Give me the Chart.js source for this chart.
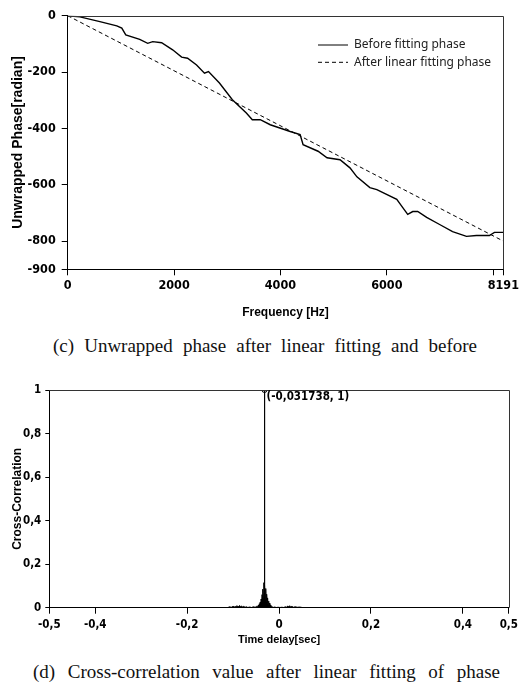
<!DOCTYPE html>
<html>
<head>
<meta charset="utf-8">
<script src="https://cdn.jsdelivr.net/npm/chart.js@4.4.1/dist/chart.umd.min.js"></script>
<style>
  html, body { margin: 0; padding: 0; background: #fff; }
  body { width: 522px; height: 688px; position: relative; overflow: hidden; }
  .box { position: absolute; left: 0; width: 522px; }
  #phaseBox { top: 0; height: 325px; }
  #ccBox { top: 375px; height: 280px; }
  .caption {
    position: absolute;
    font-family: "Liberation Serif", "Times New Roman", serif;
    font-size: 19px;
    line-height: 22px;
    color: #111;
    text-align: justify;
    text-align-last: justify;
  }
  #captionC { left: 53px; width: 424px; top: 335px; }
  #captionD { left: 33px; width: 467px; top: 661px; }
</style>
</head>
<body>
<div class="box" id="phaseBox"><canvas id="phaseChart"></canvas></div>
<div class="caption" id="captionC">(c) Unwrapped phase after linear fitting and before</div>
<div class="box" id="ccBox"><canvas id="ccChart"></canvas></div>
<div class="caption" id="captionD">(d) Cross-correlation value after linear fitting of phase</div>

<script>
// (c) unwrapped phase
const phaseFreq = [0, 230, 605, 923, 1017, 1092, 1354, 1504, 1598, 1766, 1973, 2142, 2254, 2423, 2572,
  2647, 2853, 3096, 3359, 3471, 3621, 3808, 4183, 4370, 4426, 4707, 4876, 5120, 5307, 5438,
  5681, 5812, 6187, 6300, 6393, 6487, 6581, 6749, 6993, 7236, 7498, 7685, 7929, 8023, 8191];
const phaseBefore = [0, -4, -21, -36, -44, -68, -84, -98, -92, -96, -121, -147, -151, -175, -204,
  -198, -239, -298, -345, -369, -369, -387, -411, -422, -458, -481, -504, -511, -540, -572,
  -610, -617, -652, -681, -705, -695, -695, -716, -741, -766, -783, -780, -780, -769, -769];
const fitFreq = [0, 8191];
const phaseAfter = [0, -800];
const freqTicks = [0, 2000, 4000, 6000, 8000, 8191];
const freqTickLabels = ["0", "2000", "4000", "6000", "", "8191"];
const phaseTicks = [0, -200, -400, -600, -800, -900];

// (d) cross-correlation
const ccTime = [-0.5, -0.112, -0.108, -0.104, -0.1, -0.096, -0.092, -0.088, -0.086, -0.084, -0.082,
  -0.08, -0.077, -0.074, -0.071, -0.068, -0.064, -0.06, -0.056, -0.052, -0.049, -0.047, -0.045,
  -0.044, -0.043, -0.042, -0.041, -0.04, -0.039, -0.038, -0.037, -0.036, -0.035, -0.034, -0.033,
  -0.0325, -0.032, -0.031738, -0.0312, -0.031, -0.03, -0.029, -0.028, -0.027, -0.026, -0.025,
  -0.024, -0.023, -0.022, -0.021, -0.02, -0.019, -0.018, -0.016, -0.013, -0.01, -0.006, -0.002,
  0.002, 0.006, 0.01, 0.014, 0.017, 0.019, 0.021, 0.023, 0.025, 0.028, 0.031, 0.035, 0.04, 0.045,
  0.05, 0.052, 0.5];
const ccValue = [0, 0, 0.004, 0.002, 0.006, 0.003, 0.008, 0.005, 0.01, 0.004, 0.008,
  0.003, 0.006, 0.002, 0.004, 0.001, 0.003, 0.001, 0.004, 0.002, 0.006, 0.003, 0.012,
  0.004, 0.018, 0.008, 0.026, 0.012, 0.04, 0.018, 0.06, 0.025, 0.085, 0.04, 0.115,
  0.05, 0.228, 1, 0.06, 0.105, 0.035, 0.088, 0.028, 0.062, 0.018, 0.045,
  0.012, 0.03, 0.008, 0.02, 0.004, 0.012, 0.002, 0.006, 0.001, 0.003, 0.001, 0.002,
  0.001, 0.002, 0.001, 0.004, 0.002, 0.008, 0.004, 0.009, 0.003, 0.006, 0.002, 0.004, 0.002, 0.003,
  0.001, 0, 0];
const peakTime = -0.031738;
const peakValue = 1;
const peakLabel = "(-0,031738, 1)";
const timeTicks = [-0.5, -0.4, -0.2, 0, 0.2, 0.4, 0.5];
const timeTickLabels = ["-0,5", "-0,4", "-0,2", "0", "0,2", "0,4", "0,5"];
const ccTicks = [0, 0.2, 0.4, 0.6, 0.8, 1];
const ccTickLabels = ["0", "0,2", "0,4", "0,6", "0,8", "1"];

const narrow = "\"Liberation Sans Narrow\", \"Arial Narrow\", \"DejaVu Sans Condensed\", sans-serif";
const plain = "\"Liberation Sans\", Arial, sans-serif";

const framePlugin = {
  id: "frame",
  afterDraw(chart) {
    const { ctx, chartArea: a } = chart;
    ctx.save();
    ctx.strokeStyle = "#333";
    ctx.lineWidth = 1;
    ctx.beginPath();
    ctx.moveTo(a.left, Math.round(a.top) + 0.5);
    ctx.lineTo(Math.round(a.right) + 0.5, Math.round(a.top) + 0.5);
    ctx.lineTo(Math.round(a.right) + 0.5, a.bottom);
    ctx.stroke();
    ctx.restore();
  }
};

const phaseLegend = {
  id: "phaseLegend",
  afterDraw(chart) {
    const ctx = chart.ctx;
    chart.data.datasets.forEach((ds, i) => {
      const y = 45 + i * 17.3;
      ctx.save();
      ctx.strokeStyle = ds.borderColor;
      ctx.lineWidth = 1;
      ctx.setLineDash(ds.borderDash || []);
      ctx.beginPath();
      ctx.moveTo(318, y);
      ctx.lineTo(348, y);
      ctx.stroke();
      ctx.setLineDash([]);
      ctx.fillStyle = "#222";
      ctx.font = "12px \"Noto Sans\", sans-serif";
      ctx.textBaseline = "middle";
      ctx.fillText(ds.label, 354, y);
      ctx.restore();
    });
  }
};

const peakNote = {
  id: "peakNote",
  afterDraw(chart) {
    const ctx = chart.ctx;
    const x = chart.scales.x.getPixelForValue(peakTime);
    const y = chart.scales.y.getPixelForValue(peakValue);
    ctx.save();
    ctx.fillStyle = "#000";
    ctx.font = "bold 11.5px " + narrow;
    ctx.textBaseline = "middle";
    ctx.fillText(peakLabel, x + 2, y + 7);
    ctx.restore();
  }
};

new Chart(document.getElementById("phaseChart"), {
  type: "line",
  data: {
    datasets: [
      {
        label: "Before fitting phase",
        data: phaseFreq.map((f, i) => ({ x: f, y: phaseBefore[i] })),
        borderColor: "#000",
        borderWidth: 1.4,
        pointRadius: 0,
        tension: 0,
        fill: false
      },
      {
        label: "After linear fitting phase",
        data: fitFreq.map((f, i) => ({ x: f, y: phaseAfter[i] })),
        borderColor: "#000",
        borderWidth: 1,
        borderDash: [4, 3],
        pointRadius: 0,
        fill: false
      }
    ]
  },
  options: {
    responsive: true,
    maintainAspectRatio: false,
    animation: false,
    layout: { padding: { top: 15.7, right: 16.7, left: 0, bottom: 0 } },
    plugins: { legend: { display: false }, tooltip: { enabled: false } },
    scales: {
      x: {
        type: "linear",
        min: 0,
        max: 8191,
        afterBuildTicks(scale) { scale.ticks = freqTicks.map((v) => ({ value: v })); },
        afterFit(scale) { scale.height = 325 - 269.3; },
        ticks: {
          autoSkip: false,
          maxRotation: 0,
          padding: 3,
          color: "#000",
          font: { family: narrow, weight: "bold", size: 12.5 },
          callback: (v, i) => freqTickLabels[i]
        },
        grid: { drawOnChartArea: false, tickLength: 6, color: "#000" },
        border: { color: "#000", width: 1 },
        title: {
          display: true,
          text: "Frequency [Hz]",
          color: "#000",
          padding: { top: 0, bottom: 5 },
          font: { family: plain, weight: "bold", size: 12 }
        }
      },
      y: {
        min: -900,
        max: 0,
        afterBuildTicks(scale) { scale.ticks = phaseTicks.map((v) => ({ value: v })); },
        afterFit(scale) { scale.width = 67.7; },
        ticks: {
          autoSkip: false,
          padding: 6,
          color: "#000",
          font: { family: narrow, weight: "bold", size: 12.5 }
        },
        grid: { drawOnChartArea: false, tickLength: 6, color: "#000" },
        border: { color: "#000", width: 1 },
        title: {
          display: true,
          text: "Unwrapped Phase[radian]",
          color: "#000",
          padding: { top: 10, bottom: 0 },
          font: { family: plain, weight: "bold", size: 14 }
        }
      }
    }
  },
  plugins: [framePlugin, phaseLegend]
});

new Chart(document.getElementById("ccChart"), {
  type: "line",
  data: {
    datasets: [
      {
        label: "Cross-Correlation",
        data: ccTime.map((t, i) => ({ x: t, y: ccValue[i] })),
        borderColor: "#000",
        backgroundColor: "#000",
        borderWidth: 1,
        pointRadius: 0,
        tension: 0,
        fill: "origin"
      },
      {
        label: "Peak",
        data: [{ x: peakTime, y: peakValue }],
        showLine: false,
        pointRadius: 2.5,
        pointBackgroundColor: "#fff",
        pointBorderColor: "#000",
        pointBorderWidth: 1
      }
    ]
  },
  options: {
    responsive: true,
    maintainAspectRatio: false,
    animation: false,
    layout: { padding: { top: 15, right: 12.7, left: 0, bottom: 0 } },
    plugins: { legend: { display: false }, tooltip: { enabled: false } },
    scales: {
      x: {
        type: "linear",
        min: -0.5,
        max: 0.5,
        afterBuildTicks(scale) { scale.ticks = timeTicks.map((v) => ({ value: v })); },
        afterFit(scale) { scale.height = 280 - 232.7; },
        ticks: {
          autoSkip: false,
          maxRotation: 0,
          padding: 4,
          color: "#000",
          font: { family: narrow, weight: "bold", size: 11.5 },
          callback: (v, i) => timeTickLabels[i]
        },
        grid: { drawOnChartArea: false, tickLength: 6, color: "#000" },
        border: { color: "#000", width: 1 },
        title: {
          display: true,
          text: "Time delay[sec]",
          color: "#000",
          padding: { top: 0, bottom: 8.4 },
          font: { family: plain, weight: "bold", size: 11 }
        }
      },
      y: {
        min: 0,
        max: 1,
        afterBuildTicks(scale) { scale.ticks = ccTicks.map((v) => ({ value: v })); },
        afterFit(scale) { scale.width = 49.3; },
        ticks: {
          autoSkip: false,
          padding: 4,
          color: "#000",
          font: { family: narrow, weight: "bold", size: 11.5 },
          callback: (v, i) => ccTickLabels[i]
        },
        grid: { drawOnChartArea: false, tickLength: 4, color: "#000" },
        border: { color: "#000", width: 1 },
        title: {
          display: true,
          text: "Cross-Correlation",
          color: "#000",
          padding: { top: 10.5, bottom: 0 },
          font: { family: plain, weight: "bold", size: 12 }
        }
      }
    }
  },
  plugins: [framePlugin, peakNote]
});
</script>
</body>
</html>
